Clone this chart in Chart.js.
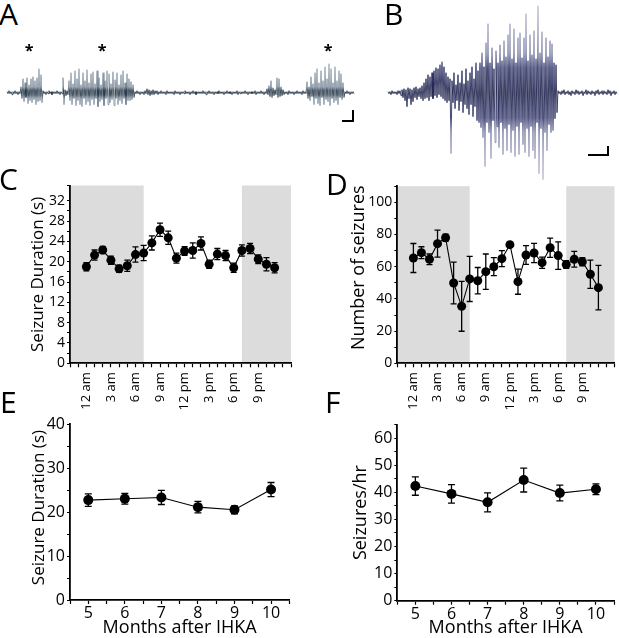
<!DOCTYPE html>
<html>
<head>
<meta charset="utf-8">
<script src="https://cdn.jsdelivr.net/npm/chart.js@4.4.1/dist/chart.umd.min.js"></script>
<style>
  body { margin: 0; width: 619px; height: 638px; position: relative; overflow: hidden; background: #fff; font-family: 'Open Sans', sans-serif; color: #000; }
  .box { position: absolute; }
  .letter { position: absolute; font-size: 30px; line-height: 1; }
  .star { position: absolute; width: 20px; text-align: center; font-size: 16px; font-weight: bold; line-height: 1; }
  .bar { position: absolute; border: 0 solid #000; border-right-width: 2px; border-bottom-width: 2px; }
</style>
</head>
<body>
<div class="box" style="left:0;top:55px;width:360px;height:70px"><canvas id="traceA"></canvas></div>
<div class="box" style="left:370px;top:0;width:249px;height:190px"><canvas id="traceB"></canvas></div>
<div class="box" style="left:0;top:170px;width:300px;height:240px"><canvas id="chartC"></canvas></div>
<div class="box" style="left:310px;top:170px;width:309px;height:240px"><canvas id="chartD"></canvas></div>
<div class="box" style="left:0;top:415px;width:300px;height:223px"><canvas id="chartE"></canvas></div>
<div class="box" style="left:310px;top:415px;width:309px;height:223px"><canvas id="chartF"></canvas></div>

<div class="letter" style="left:-1px;top:-1px">A</div>
<div class="letter" style="left:384px;top:-1px">B</div>
<div class="letter" style="left:-1px;top:164px">C</div>
<div class="letter" style="left:326px;top:169px">D</div>
<div class="letter" style="left:0;top:387px">E</div>
<div class="letter" style="left:325px;top:387px">F</div>

<div class="star" style="left:19px;top:42px">*</div>
<div class="star" style="left:92px;top:42px">*</div>
<div class="star" style="left:318px;top:42px">*</div>
<div class="bar" style="left:342px;top:110px;width:10px;height:10px"></div>
<div class="bar" style="left:588px;top:146px;width:19px;height:8px"></div>

<script>
// hour of day (C, D)
const hours = [0,1,2,3,4,5,6,7,8,9,10,11,12,13,14,15,16,17,18,19,20,21,22,23];
const hourTickLabels = ['12 am','3 am','6 am','9 am','12 pm','3 pm','6 pm','9 pm'];
const darkPeriods = [[-2, 7], [19, 25]];

const durationByHour = [19.0,21.3,22.3,20.3,18.6,19.2,21.4,21.7,23.7,26.3,24.7,20.7,
                        22.1,22.2,23.6,19.5,21.5,21.2,18.8,22.2,22.6,20.5,19.5,18.8];
const durationByHourErr = [0.8,1.0,0.7,0.8,0.7,1.1,1.5,1.5,1.4,1.3,1.3,1.0,
                           0.85,1.5,1.3,0.8,1.1,1.0,0.9,1.1,1.0,0.85,1.3,1.0];

const seizuresByHour = [65.4,68.7,64.6,74.3,78.0,49.9,35.4,52.4,51.3,56.9,60.0,65.0,
                        73.7,50.7,67.3,68.5,62.5,71.8,66.9,61.3,64.6,63.1,55.3,47.0];
const seizuresByHourErr = [9.0,3.7,3.3,8.4,2.2,13.0,15.5,14.0,8.2,11.0,5.6,5.0,
                           1.2,7.8,5.8,6.0,3.5,6.0,8.5,2.4,4.9,2.5,8.8,13.8];

// months after IHKA (E, F)
const months = [5,6,7,8,9,10];
const durationByMonth = [22.7,23.0,23.3,21.1,20.5,25.1];
const durationByMonthErr = [1.4,1.2,1.6,1.3,0.9,1.6];
const ratePerHour = [42.3,39.4,36.3,44.5,39.7,41.1];
const ratePerHourErr = [3.4,3.4,3.5,4.4,2.9,2.0];

// EEG traces, spike peaks / troughs per time bin (arbitrary units)
const aUp = [
  1,2,1,1,2,1,1,
  6,14,10,15,8,14,16,12,15,24,18,
  2,1,1,2,1,1,1,2,1,1,
  15,
  3,2,
  12,20,9,22,14,24,8,20,12,23,10,19,21,9,22,15,8,20,12,22,19,9,21,13,20,8,18,22,10,19,14,11,8,
  1,2,1,1,1,2,
  4,3,2,3,2,2,1,2,
  1,1,2,1,1,1,2,1,1,1,1,2,1,1,1,2,1,1,1,1,2,1,1,2,1,1,1,1,2,1,1,1,2,1,1,1,1,2,1,1,1,2,1,1,1,1,2,1,1,2,1,1,
  4,7,12,5,3,15,14,6,3,
  1,1,2,1,1,1,2,1,1,2,1,
  11,6,16,9,20,24,10,22,12,26,14,29,24,10,26,12,22,19,10,
  1,2,1,1,1
];
const aDown = [
  1,1,2,1,1,2,1,
  6,9,5,11,8,10,7,12,9,8,10,
  1,2,1,1,2,1,1,1,2,1,
  12,
  3,2,
  8,12,6,13,8,12,14,6,12,9,13,7,12,6,14,9,7,13,6,12,10,7,13,6,12,8,11,6,12,8,8,7,5,
  1,1,2,1,2,1,
  2,3,2,2,1,2,1,1,
  1,2,1,1,1,2,1,1,2,1,1,1,1,2,1,1,2,1,1,1,1,2,1,1,1,2,1,1,1,1,2,1,1,1,2,1,1,2,1,1,1,1,2,1,1,1,2,1,1,1,2,1,
  2,4,5,3,2,5,4,3,2,
  1,2,1,1,2,1,1,1,2,1,1,
  6,8,4,12,6,11,13,5,12,7,9,13,6,10,8,12,5,7,5,
  1,1,2,1,1
];
const bUp = [
  1,1,2,1,1,2,
  2,3,4,3,5,4,3,5,6,4,5,7,
  10,14,18,16,20,22,25,24,28,31,26,20,16,14,
  12,20,8,18,10,22,9,24,12,20,26,14,30,22,
  30,40,26,50,69,30,45,24,42,30,48,32,52,36,58,69,34,64,30,55,
  60,35,55,79,32,58,38,62,34,87,40,61,30,55,36,52,49,30,28,
  2,1,2,3,1,2,1,2,1,3,2,1,2,1,3,2,1,2,1,2,3,1,2,2,1,3,2,1,2,1
];
const bDown = [
  1,2,1,1,2,1,
  3,5,8,14,6,12,9,5,7,4,6,8,
  6,5,8,4,6,3,5,2,4,6,8,10,8,61,
  10,16,8,18,9,20,12,16,22,12,24,14,28,30,
  35,45,74,30,40,66,28,50,34,55,30,62,36,58,32,60,38,64,34,62,
  30,52,60,36,64,34,58,66,30,81,36,87,40,58,32,40,38,26,20,
  1,2,1,2,1,2,3,1,2,1,2,1,3,1,2,1,2,1,3,1,2,1,2,1,2,1,3,1,2,1
];

const FONT = "'Open Sans', sans-serif";

// grey background for dark periods
const shadePlugin = {
  id: 'shade',
  beforeDraw(chart, args, opts) {
    if (!opts.bands) return;
    const { ctx, chartArea: a, scales: { x } } = chart;
    ctx.save();
    ctx.fillStyle = opts.color;
    opts.bands.forEach(([from, to]) => {
      const x0 = x.getPixelForValue(from), x1 = x.getPixelForValue(to);
      ctx.fillRect(x0, a.top, x1 - x0, a.bottom - a.top);
    });
    ctx.restore();
  }
};

// SEM error bars
const errorBarPlugin = {
  id: 'errorBars',
  afterDatasetsDraw(chart) {
    const { ctx, scales: { y } } = chart;
    chart.data.datasets.forEach((ds, di) => {
      if (!ds.errors) return;
      const meta = chart.getDatasetMeta(di);
      ctx.save();
      ctx.strokeStyle = '#000';
      ctx.lineWidth = 1.3;
      meta.data.forEach((pt, i) => {
        const v = ds.data[i].y, e = ds.errors[i];
        const top = y.getPixelForValue(v + e), bot = y.getPixelForValue(v - e);
        const c = ds.capHalf;
        ctx.beginPath();
        ctx.moveTo(pt.x, top); ctx.lineTo(pt.x, bot);
        ctx.moveTo(pt.x - c, top); ctx.lineTo(pt.x + c, top);
        ctx.moveTo(pt.x - c, bot); ctx.lineTo(pt.x + c, bot);
        ctx.stroke();
      });
      ctx.restore();
    });
  }
};

function noPad(s) { s.paddingLeft = 0; s.paddingRight = 0; s.paddingTop = 0; s.paddingBottom = 0; }

function seriesChart(id, c) {
  return new Chart(document.getElementById(id), {
    type: 'line',
    data: {
      datasets: [{
        data: c.xs.map((x, i) => ({ x, y: c.ys[i] })),
        errors: c.err,
        capHalf: c.cap,
        borderColor: '#000',
        borderWidth: 1.1,
        pointRadius: c.r,
        pointBackgroundColor: '#000',
        pointBorderWidth: 0,
        tension: 0
      }]
    },
    options: {
      responsive: true,
      maintainAspectRatio: false,
      animation: false,
      layout: { padding: c.pad },
      plugins: {
        legend: { display: false },
        tooltip: { enabled: false },
        shade: { bands: c.bands, color: '#dcdcdc' }
      },
      scales: {
        x: {
          type: 'linear', min: c.xMin, max: c.xMax,
          afterFit: s => { s.height = c.xH; noPad(s); },
          border: { color: '#000', width: 1.8 },
          grid: { drawOnChartArea: false, tickLength: 4, tickColor: '#000', tickWidth: 1.2 },
          ticks: {
            stepSize: c.xStep, autoSkip: false, color: '#000',
            minRotation: c.rot, maxRotation: c.rot, padding: c.xPadTick,
            font: { family: FONT, size: c.xFont }, callback: c.xLabel
          },
          title: {
            display: !!c.xTitle, text: c.xTitle, color: '#000',
            font: { family: FONT, size: 18, lineHeight: 1 }, padding: { top: 0, bottom: 1 }
          }
        },
        y: {
          min: 0, max: c.yMax,
          afterFit: s => { s.width = c.yW; noPad(s); },
          border: { color: '#000', width: 1.8 },
          grid: { drawOnChartArea: false, tickLength: 3, tickColor: '#000', tickWidth: 1.2 },
          ticks: {
            stepSize: c.yStep, autoSkip: false, color: '#000', padding: 2,
            font: { family: FONT, size: c.yFont }, callback: c.yLabel
          },
          title: {
            display: true, text: c.yTitle, color: '#000',
            font: { family: FONT, size: c.yTitleSize, lineHeight: 1.2 },
            padding: { top: c.yTitlePad, bottom: 0 }
          }
        }
      }
    },
    plugins: [shadePlugin, errorBarPlugin]
  });
}

const hourLabel = v => (v >= 0 && v <= 21 && v % 3 === 0) ? hourTickLabels[v / 3] : '';
const monthLabel = v => Number.isInteger(v) ? v : '';
const NB = '\u00a0';

seriesChart('chartC', {
  xs: hours, ys: durationByHour, err: durationByHourErr, cap: 3, r: 4.5,
  bands: darkPeriods, xMin: -2, xMax: 25, xStep: 1, rot: 90, xPadTick: 5, xFont: 13, xLabel: hourLabel, xH: 46.7,
  yMax: 35, yStep: 2, yFont: 14, yLabel: v => v % 4 === 0 ? v : '', yW: 70,
  yTitle: 'Seizure Duration (s)', yTitleSize: 17, yTitlePad: 28,
  pad: { left: 0, right: 9, top: 15.5, bottom: 0 }
});

seriesChart('chartD', {
  xs: hours, ys: seizuresByHour, err: seizuresByHourErr, cap: 3, r: 4.5,
  bands: darkPeriods, xMin: -2, xMax: 25, xStep: 1, rot: 90, xPadTick: 5, xFont: 13, xLabel: hourLabel, xH: 46.7,
  yMax: 110, yStep: 10, yFont: 14, yLabel: v => v % 20 === 0 ? v : '', yW: 87.3,
  yTitle: NB + NB + NB + 'Number of seizures', yTitleSize: 18, yTitlePad: 38,
  pad: { left: 0, right: 2.3, top: 16.2, bottom: 0 }
});

seriesChart('chartE', {
  xs: months, ys: durationByMonth, err: durationByMonthErr, cap: 3.5, r: 5,
  bands: null, xMin: 4.5, xMax: 10.5, xStep: 0.5, rot: 0, xPadTick: 0, xFont: 16, xLabel: monthLabel, xH: 38,
  xTitle: 'Months after IHKA',
  yMax: 40, yStep: 5, yFont: 16, yLabel: v => v % 10 === 0 ? v : '', yW: 70,
  yTitle: NB + NB + 'Seizure Duration (s)', yTitleSize: 17, yTitlePad: 29,
  pad: { left: 0, right: 10.7, top: 9, bottom: 0 }
});

seriesChart('chartF', {
  xs: months, ys: ratePerHour, err: ratePerHourErr, cap: 3.5, r: 5,
  bands: null, xMin: 4.5, xMax: 10.5, xStep: 0.5, rot: 0, xPadTick: 0, xFont: 16, xLabel: monthLabel, xH: 37.3,
  xTitle: 'Months after IHKA',
  yMax: 65, yStep: 5, yFont: 16, yLabel: v => (v % 10 === 0 && v <= 60) ? v : '', yW: 87.3,
  yTitle: 'Seizures/hr', yTitleSize: 18, yTitlePad: 40,
  pad: { left: 0, right: 2, top: 9.5, bottom: 0 }
});

// raw EEG traces drawn as a zigzag through peaks and troughs
function zigzag(up, down) {
  const pts = [];
  up.forEach((u, i) => {
    pts.push({ x: i, y: u });
    pts.push({ x: i + 0.5, y: -down[i] });
  });
  return pts;
}

// vertical colour ramp: dark around the baseline, pale at the spike tips
function traceColor(stops) {
  return ctx => {
    const { chart } = ctx;
    const a = chart.chartArea;
    if (!a) return stops[0][1];
    const y = chart.scales.y;
    const base = y.getPixelForValue(0);
    const g = chart.ctx.createLinearGradient(0, a.top, 0, a.bottom);
    const h = a.bottom - a.top;
    stops.forEach(([d, col]) => {
      const up = (base - d - a.top) / h, dn = (base + d - a.top) / h;
      if (up >= 0 && up <= 1) g.addColorStop(up, col);
      if (dn >= 0 && dn <= 1) g.addColorStop(dn, col);
    });
    g.addColorStop(0, stops[stops.length - 1][1]);
    g.addColorStop(1, stops[stops.length - 1][1]);
    return g;
  };
}

function traceChart(id, up, down, stops, width, xr, yr) {
  return new Chart(document.getElementById(id), {
    type: 'line',
    data: { datasets: [{ data: zigzag(up, down), borderColor: traceColor(stops), borderWidth: width, pointRadius: 0, tension: 0 }] },
    options: {
      responsive: true, maintainAspectRatio: false, animation: false,
      layout: { padding: 0 },
      plugins: { legend: { display: false }, tooltip: { enabled: false } },
      scales: {
        x: { type: 'linear', display: false, min: xr[0], max: xr[1] },
        y: { display: false, min: yr[0], max: yr[1] }
      }
    }
  });
}

traceChart('traceA', aUp, aDown,
  [[0, 'rgb(20,38,55)'], [2.5, 'rgb(30,48,66)'], [6, 'rgba(85,105,125,0.8)'], [30, 'rgba(120,138,155,0.7)']],
  0.8, [-3.5, 176.5], [-32.3, 37.7]);
traceChart('traceB', bUp, bDown,
  [[0, 'rgb(12,16,60)'], [25, 'rgb(25,30,85)'], [40, 'rgba(80,85,135,0.75)'], [90, 'rgba(150,152,185,0.6)']],
  0.8, [-9, 115.5], [-97.3, 92.7]);
</script>
</body>
</html>
